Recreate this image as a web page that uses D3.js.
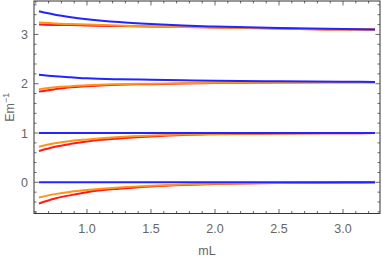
<!DOCTYPE html>
<html>
<head>
<meta charset="utf-8">
<script src="https://cdn.jsdelivr.net/npm/d3@7"></script>
<style>
  body { margin: 0; background: #fff; }
  text { font-family: "Liberation Sans", Arial, sans-serif; fill: #666; }
</style>
</head>
<body>
<svg id="chart" width="382" height="261"></svg>
<script>
// sample points along mL
const mL = [0.625, 0.75, 0.875, 1.0, 1.25, 1.5, 1.75, 2.0, 2.5, 3.0, 3.25];

// level 0
const blue0   = [0, 0, 0, 0, 0, 0, 0, 0, 0, 0, 0];
const orange0 = [-0.31, -0.24, -0.19, -0.155, -0.105, -0.07, -0.045, -0.03, -0.012, -0.005, 0];
const red0    = [-0.43, -0.33, -0.26, -0.2, -0.13, -0.085, -0.055, -0.035, -0.015, -0.006, 0];
// level 1
const blue1   = [1, 1, 1, 1, 1, 1, 1, 1, 1, 1, 1];
const orange1 = [0.72, 0.79, 0.84, 0.87, 0.92, 0.95, 0.97, 0.98, 0.99, 0.995, 1.0];
const red1    = [0.635, 0.72, 0.78, 0.83, 0.89, 0.93, 0.96, 0.975, 0.99, 0.995, 1.0];
// level 2
const blue2   = [2.18, 2.15, 2.13, 2.11, 2.09, 2.08, 2.07, 2.06, 2.05, 2.04, 2.035];
const orange2 = [1.89, 1.93, 1.95, 1.97, 1.99, 2.0, 2.01, 2.02, 2.025, 2.03, 2.03];
const red2    = [1.84, 1.89, 1.93, 1.95, 1.98, 1.99, 2.005, 2.015, 2.025, 2.03, 2.03];
// level 3
const blue3   = [3.47, 3.40, 3.35, 3.31, 3.25, 3.21, 3.18, 3.16, 3.13, 3.11, 3.10];
const orange3 = [3.24, 3.22, 3.21, 3.20, 3.18, 3.16, 3.15, 3.14, 3.12, 3.10, 3.10];
const red3    = [3.20, 3.19, 3.19, 3.18, 3.17, 3.16, 3.15, 3.14, 3.12, 3.10, 3.10];

const xTicks = [1.0, 1.5, 2.0, 2.5, 3.0];
const yTicks = [0, 1, 2, 3];

const series = [
    {color: "#ff1a1a", values: [red0, red1, red2, red3]},
    {color: "#ff9419", values: [orange0, orange1, orange2, orange3]},
    {color: "#2424ff", values: [blue0, blue1, blue2, blue3]}
];

const svg = d3.select("#chart");
const pLeft = 34, pTop = 1, pRight = 380, pBottom = 213.5;

const x = d3.scaleLinear().domain([0.586, 3.289]).range([pLeft, pRight]);
const y = d3.scaleLinear().domain([-0.633, 3.678]).range([pBottom, pTop]);

// minor ticks
const xMinor = d3.range(6, 33).map(d => d / 10).filter(d => !xTicks.some(t => Math.abs(t - d) < 1e-9));
const yMinor = d3.range(-3, 19).map(d => d / 5).filter(d => !yTicks.some(t => Math.abs(t - d) < 1e-9));

const tickCol = "#444";
const g = svg.append("g");

// curves (red, then orange, then blue on top)
const line = d3.line().x(d => x(d[0])).y(d => y(d[1])).curve(d3.curveMonotoneX);
series.forEach(s => {
    s.values.forEach(vals => {
        g.append("path")
            .datum(mL.map((m, i) => [m, vals[i]]))
            .attr("fill", "none")
            .attr("stroke", s.color)
            .attr("stroke-width", 2)
            .attr("d", line);
    });
});

// ticks on all four sides
function ticksX(vals, len) {
    vals.forEach(v => {
        g.append("line").attr("x1", x(v)).attr("x2", x(v)).attr("y1", pBottom).attr("y2", pBottom - len)
            .attr("stroke", tickCol).attr("stroke-width", 0.8);
        g.append("line").attr("x1", x(v)).attr("x2", x(v)).attr("y1", pTop).attr("y2", pTop + len)
            .attr("stroke", tickCol).attr("stroke-width", 0.8);
    });
}
function ticksY(vals, len) {
    vals.forEach(v => {
        g.append("line").attr("y1", y(v)).attr("y2", y(v)).attr("x1", pLeft).attr("x2", pLeft + len)
            .attr("stroke", tickCol).attr("stroke-width", 0.8);
        g.append("line").attr("y1", y(v)).attr("y2", y(v)).attr("x1", pRight).attr("x2", pRight - len)
            .attr("stroke", tickCol).attr("stroke-width", 0.8);
    });
}
ticksX(xTicks, 4.5);
ticksX(xMinor, 2.5);
ticksY(yTicks, 4.5);
ticksY(yMinor, 2.5);

// frame
g.append("rect")
    .attr("x", pLeft).attr("y", pTop)
    .attr("width", pRight - pLeft).attr("height", pBottom - pTop)
    .attr("fill", "none").attr("stroke", "#333").attr("stroke-width", 1);

// tick labels
g.selectAll(".xl").data(xTicks).join("text")
    .attr("x", d => x(d)).attr("y", pBottom + 19)
    .attr("text-anchor", "middle").attr("font-size", 12.5)
    .text(d => d3.format(".1f")(d));
g.selectAll(".yl").data(yTicks).join("text")
    .attr("x", pLeft - 6).attr("y", d => y(d) + 4.5)
    .attr("text-anchor", "end").attr("font-size", 12.5)
    .text(d => d);

// axis titles
svg.append("text")
    .attr("x", (pLeft + pRight) / 2).attr("y", 255)
    .attr("text-anchor", "middle").attr("font-size", 12.5)
    .text("mL");

const yt = svg.append("text")
    .attr("transform", "translate(14," + ((pTop + pBottom) / 2) + ") rotate(-90)")
    .attr("text-anchor", "middle").attr("font-size", 12.5);
yt.append("tspan").text("Em");
yt.append("tspan").attr("baseline-shift", "super").attr("font-size", 9).text("\u22121");
</script>
</body>
</html>
